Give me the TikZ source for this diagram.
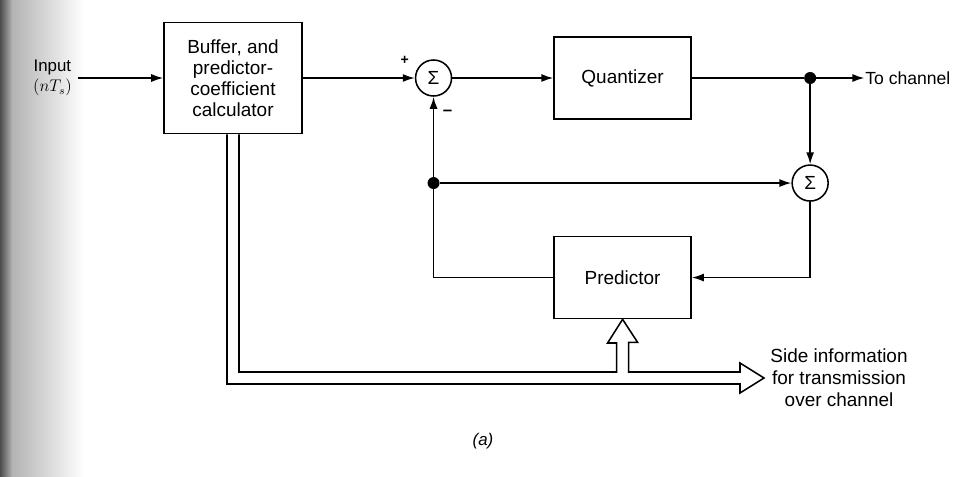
\documentclass[tikz,border=0pt]{standalone}
\usepackage{fontspec}
\setmainfont{Liberation Sans}
\usetikzlibrary{arrows.meta,positioning}

\begin{document}
\begin{tikzpicture}[
    box/.style={draw, line width=1.1pt, align=center, inner sep=2pt, font=\fontsize{13.5}{15}\selectfont, minimum width=3.425cm, minimum height=2.05cm},
    summer/.style={draw, circle, line width=1.1pt, inner sep=0pt, minimum size=0.9cm, font=\fontsize{13.5}{15}\selectfont},
    dot/.style={circle, fill, inner sep=0pt, minimum size=0.3cm},
    lbl/.style={inner sep=1pt, align=center, font=\fontsize{13.5}{15.5}\selectfont},
    arr/.style={-{Latex[length=3mm,width=2mm]}, line width=1.1pt},
    hollow/.style={line width=1.1pt, line join=miter}
  ]
    \useasboundingbox (0,0) rectangle (23.925,-11.925);
    % scanned page edge
    \shade[left color=black!70, right color=black!30] (0,0) rectangle (0.3,-11.925);
    \shade[left color=black!30, right color=white] (0.3,0) rectangle (2.1,-11.925);

    \node[box, minimum width=3.45cm, minimum height=2.775cm] (buf) at (5.825,-1.95) {Buffer, and\\predictor-\\coefficient\\calculator};
    \node[lbl, anchor=east, inner sep=0.15cm, font=\fontsize{12}{14}\selectfont] (inlbl) at (1.95,-1.95) {Input\\$(nT_s)$};
    \node[summer, right=2.8cm of buf] (sig1) {Σ};
    \node[box, right=2.525cm of sig1] (quant) {Quantizer};
    \node[dot, right=2.8cm of quant] (tap) {};
    \node[lbl, right=1.2cm of tap, inner sep=0.5pt, font=\fontsize{12.5}{15}\selectfont] (tochan) {To channel};
    \node[summer, below=2.0cm of tap] (sig2) {Σ};
    \node[dot] (fork) at (sig1 |- sig2) {};
    \node[box, below=2.9cm of quant] (pred) {Predictor};
    \node[lbl, font=\fontsize{10}{12}\selectfont\bfseries] (plus) at ([xshift=-0.25cm,yshift=0.45cm]sig1.west) {+};
    \node[lbl, font=\fontsize{12}{12}\selectfont\bfseries] (minus) at ([xshift=0.35cm,yshift=-0.4cm]sig1.south) {–};
    \coordinate (sideend) at (18.5,-9.45);
    \node[lbl, right=0.12cm of sideend, xshift=0.6cm] (side) {Side information\\for transmission\\over channel};
    \node[lbl, font=\fontsize{12}{14}\selectfont\itshape] (cap) at (12.075,-11.025) {(a)};

    \draw[arr] (inlbl.east) -- (buf.west);
    \draw[arr] (buf) -- (sig1);
    \draw[arr] (sig1) -- (quant);
    \draw[line width=1.1pt] (quant) -- (tap);
    \draw[arr] (tap) -- (tochan);
    \draw[arr] (tap) -- (sig2);
    \draw[arr] (fork) -- (sig2);
    \draw[arr] (sig2.south) |- (pred.east);
    \draw[arr] (pred.west) -| (sig1.south);

    % side information paths
    \draw[hollow] ([xshift=1.5mm]buf.south) |- ([xshift=-1.5mm,yshift=1.5mm]pred.south |- sideend)
      -- ++(0,0.725) -- ++(-0.225,0) -- (pred.south) -- ++(0.375,-0.575) -- ++(-0.225,0)
      |- ([yshift=1.5mm]sideend) -- ++(0,0.225) -- ++(0.6,-0.375) -- ++(-0.6,-0.375) -- ++(0,0.225)
      -| ([xshift=-1.5mm]buf.south);
  \end{tikzpicture}
\end{document}
